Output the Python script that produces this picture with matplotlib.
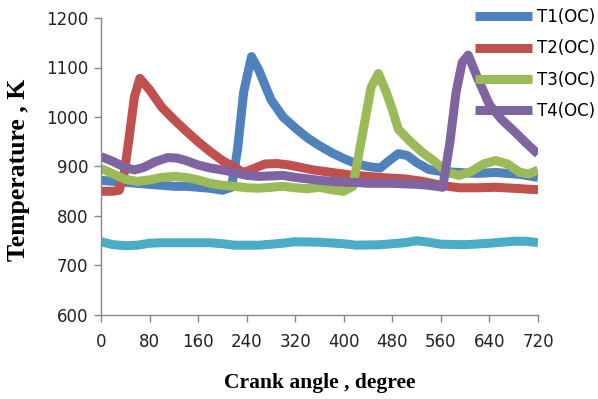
import numpy as np
import matplotlib
matplotlib.use("Agg")
import matplotlib.pyplot as plt

# crank angle (deg) and temperature (K)
t1_deg = [0, 20, 40, 60, 80, 100, 120, 140, 160, 180, 200, 215, 225, 235, 248, 260, 270, 280,
          300, 320, 340, 360, 380, 400, 420, 440, 460, 475, 490, 505, 520, 540, 560, 590, 620,
          650, 670, 690, 720]
t1_val = [872, 870, 868, 866, 864, 862, 860, 860, 858, 856, 852, 858, 935, 1050, 1122, 1095, 1065, 1035,
          1000, 978, 958, 942, 928, 916, 906, 900, 897, 912, 926, 922, 908, 894, 890, 888, 886,
          888, 886, 884, 878]

t2_deg = [0, 20, 30, 38, 46, 55, 64, 80, 100, 120, 140, 160, 180, 200, 220, 235, 250, 270,
          290, 310, 330, 350, 380, 410, 440, 470, 500, 530, 560, 590, 620, 650, 680, 720]
t2_val = [850, 850, 852, 885, 955, 1040, 1078, 1055, 1020, 995, 972, 950, 930, 912, 898, 888, 895, 905,
          906, 903, 898, 893, 888, 883, 880, 877, 875, 870, 862, 857, 857, 858, 856, 853]

t3_deg = [0, 20, 40, 60, 80, 100, 120, 140, 160, 180, 200, 220, 240, 260, 280, 300, 320, 340,
          360, 380, 400, 415, 430, 445, 457, 470, 480, 490, 510, 530, 550, 570, 590, 610,
          630, 650, 670, 690, 705, 720]
t3_val = [896, 885, 874, 870, 873, 878, 880, 878, 873, 866, 862, 860, 857, 856, 858, 860, 857, 855,
          858, 853, 850, 860, 960, 1060, 1088, 1050, 1015, 975, 950, 928, 910, 888, 882, 890,
          905, 912, 905, 888, 885, 893]

t4_deg = [0, 20, 40, 55, 70, 90, 110, 125, 140, 160, 180, 200, 220, 240, 260, 280, 300, 320,
          340, 360, 380, 400, 420, 440, 460, 480, 500, 520, 540, 563, 575, 585, 595, 605,
          620, 640, 660, 680, 700, 720]
t4_val = [920, 910, 898, 893, 898, 910, 918, 917, 912, 903, 897, 893, 888, 882, 880, 881, 882, 878,
          875, 872, 870, 868, 868, 866, 866, 866, 865, 864, 862, 858, 950, 1050, 1110, 1125,
          1080, 1025, 995, 972, 948, 925]

t5_deg = [0, 20, 40, 60, 80, 100, 140, 180, 200, 220, 260, 300, 320, 360, 400, 420, 460, 500,
          520, 540, 560, 600, 640, 680, 700, 720]
t5_val = [748, 742, 740, 741, 745, 746, 746, 746, 744, 741, 741, 745, 748, 747, 744, 741, 742, 746,
          750, 747, 743, 742, 745, 749, 749, 746]

labels = ["T1(OC)", "T2(OC)", "T3(OC)", "T4(OC)"]
colors = ["#4F81BD", "#C0504D", "#9BBB59", "#8064A2", "#4BACC6"]

x_ticks = np.arange(0, 721, 80)
y_ticks = np.arange(600, 1201, 100)

plt.rcParams['font.family'] = ['DejaVu Sans']

fig = plt.figure(figsize=(5.98, 3.99), dpi=100)
ax = fig.add_axes([101/598, 1 - 315/399, (538 - 101)/598, (315 - 18)/399])

series = [(t1_deg, t1_val), (t2_deg, t2_val), (t3_deg, t3_val), (t4_deg, t4_val), (t5_deg, t5_val)]
handles = []
for i, (xd, yd) in enumerate(series):
    ln, = ax.plot(xd, yd, color=colors[i], lw=6.5, solid_joinstyle='round', solid_capstyle='butt')
    handles.append(ln)

ax.set_xlim(0, 720)
ax.set_ylim(600, 1200)
ax.set_xticks(x_ticks)
ax.set_yticks(y_ticks)
ax.tick_params(labelsize=12, color='#868686', length=5, width=1, colors='#222222')
ax.tick_params(axis='x', pad=8)
ax.tick_params(axis='y', pad=4)
for s in ['top', 'right']:
    ax.spines[s].set_visible(False)
for s in ['left', 'bottom']:
    ax.spines[s].set_color('#868686')
    ax.spines[s].set_linewidth(1)

leg = ax.legend(handles[:4], labels, loc='upper left', bbox_to_anchor=(475/598, 1 - 8/399),
                bbox_transform=fig.transFigure, frameon=False, fontsize=12,
                handlelength=3.4, handletextpad=0.3, labelspacing=0.8,
                borderpad=0, borderaxespad=0)

fig.text(320/598, 1 - 383/399, "Crank angle , degree", ha='center', va='center',
         family='Liberation Serif', fontweight='bold', fontsize=15.5)
fig.text(19/598, 1 - 170/399, "Temperature , K", ha='center', va='center', rotation=90,
         family='Liberation Serif', fontweight='bold', fontsize=18.5)

fig.savefig("out.png", dpi=100)
